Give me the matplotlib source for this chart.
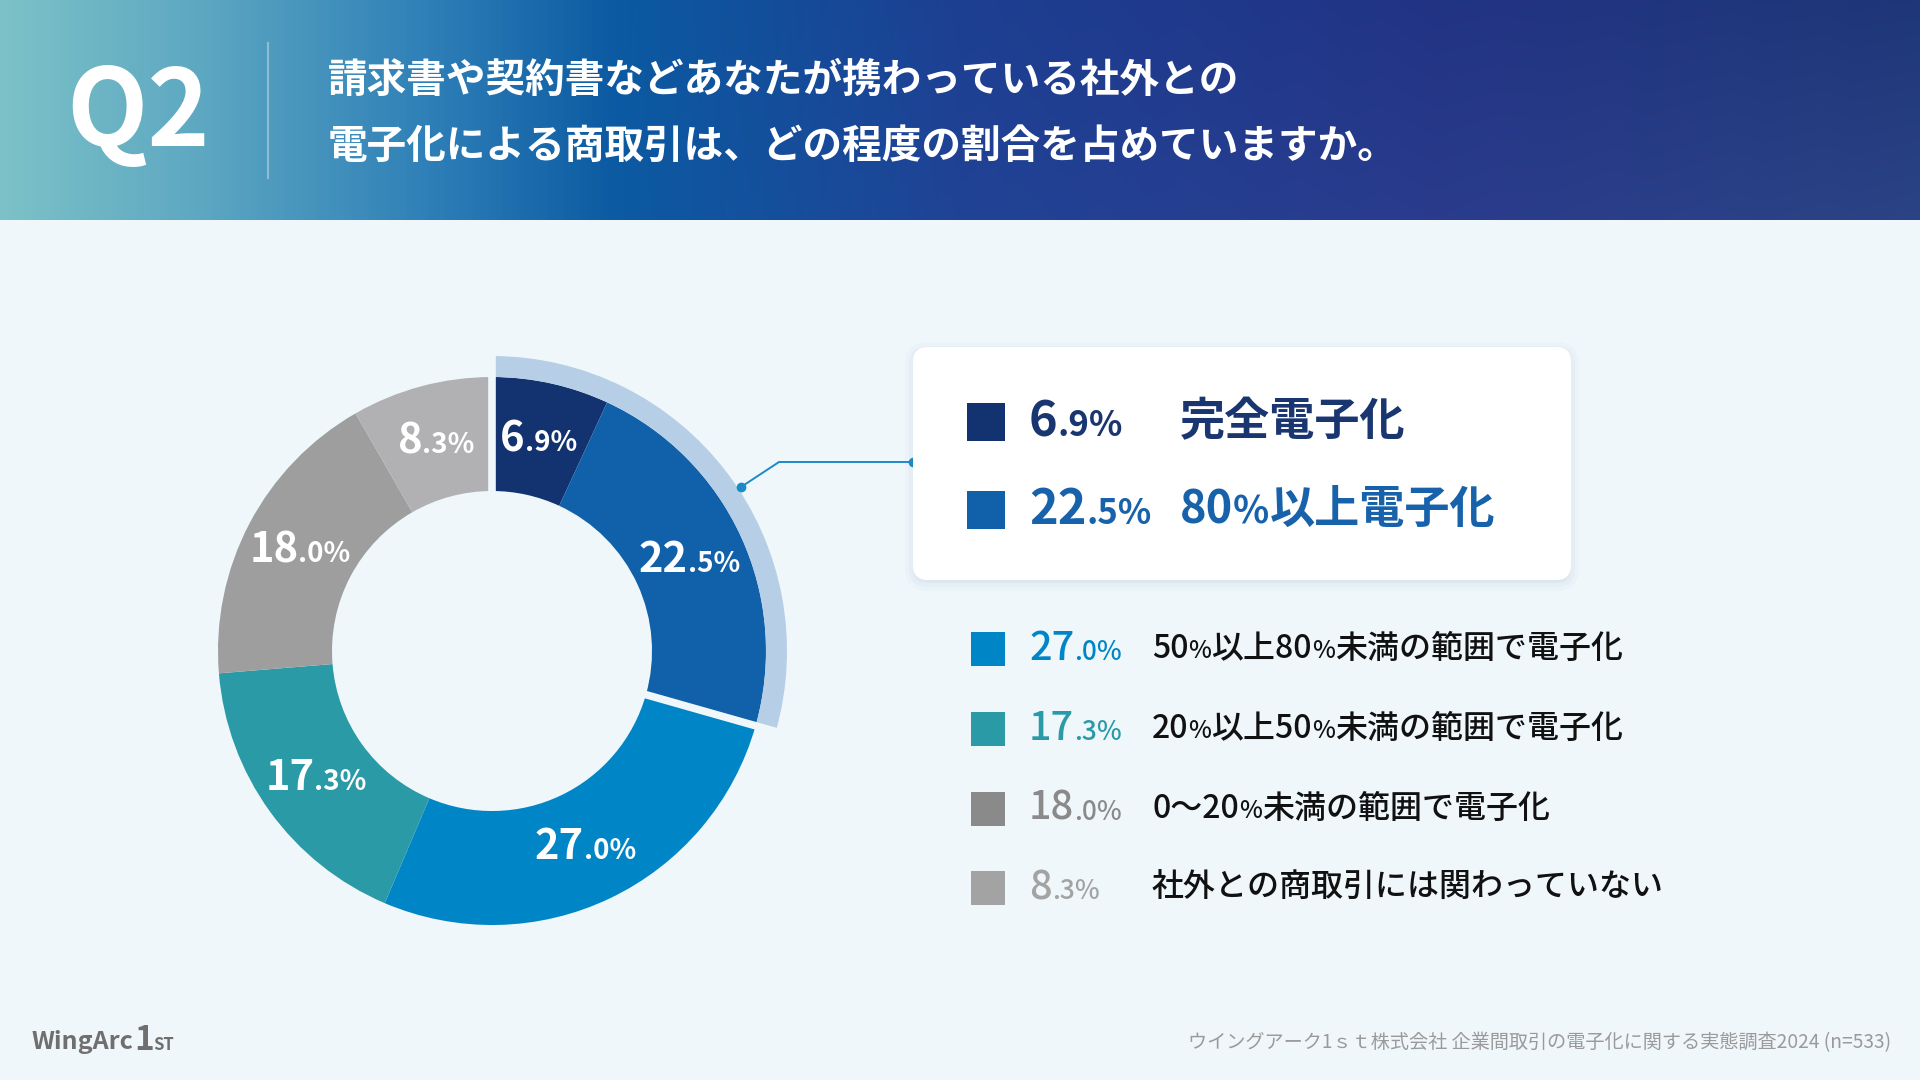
import numpy as np
import matplotlib.pyplot as plt
from matplotlib.patches import Rectangle, FancyBboxPatch, Wedge
from matplotlib.offsetbox import TextArea, HPacker, AnnotationBbox
from matplotlib.colors import LinearSegmentedColormap

plt.rcParams['font.family'] = ['Noto Sans CJK JP', 'DejaVu Sans']

W, H = 1920, 1080

# --- data ---
labels = ['完全電子化', '80%以上電子化', '50%以上80%未満の範囲で電子化',
          '20%以上50%未満の範囲で電子化', '0～20%未満の範囲で電子化',
          '社外との商取引には関わっていない']
values = [6.9, 22.5, 27.0, 17.3, 18.0, 8.3]
wedge_colors = ['#12336f', '#1160aa', '#0086c6', '#2a9aa6', '#9e9e9f', '#b1b1b3']
legend_colors = ['#12336f', '#1160aa', '#0086c6', '#2a9aa6', '#8a8a8a', '#a3a3a3']
title_lines = ['請求書や契約書などあなたが携わっている社外との',
               '電子化による商取引は、どの程度の割合を占めていますか。']
question = 'Q2'
source = 'ウイングアーク1ｓｔ株式会社 企業間取引の電子化に関する実態調査2024 (n=533)'

BG = '#eff7fb'


def Y(y):
    # top-down pixel -> axes coords
    return H - y


def rich(ax, parts, x, y, ha='left'):
    boxes = []
    for p in parts:
        t, s, c, w = p[:4]
        st = p[4] if len(p) > 4 else 'normal'
        boxes.append(TextArea(t, textprops=dict(fontsize=s, color=c, fontweight=w, fontstyle=st)))
    pack = HPacker(children=boxes, align='baseline', pad=0, sep=0)
    bx = {'left': 0, 'center': 0.5, 'right': 1}[ha]
    ab = AnnotationBbox(pack, (x, Y(y)), frameon=False, pad=0, box_alignment=(bx, 0.5), zorder=10)
    ax.add_artist(ab)


def num_parts(v, big, small, color, weight='bold'):
    i, d = f'{v:.1f}'.split('.')
    return [(i, big, color, weight), ('.' + d + '%', small, color, weight)]


def pct_parts(s, size, small, color, weight):
    segs = s.split('%')
    parts = []
    for k, seg in enumerate(segs):
        if seg:
            parts.append((seg, size, color, weight))
        if k < len(segs) - 1:
            parts.append(('%', small, color, weight))
    return parts


fig = plt.figure(figsize=(19.2, 10.8), dpi=100, facecolor=BG)
ax = fig.add_axes([0, 0, 1, 1])
ax.set_facecolor(BG)

# header gradient
cmap = LinearSegmentedColormap.from_list('hdr', [
    (0.0, '#7bc1c7'), (0.1, '#5ea8c2'), (0.22, '#2f80b8'), (0.32, '#0b5aa2'),
    (0.5, '#1d3f92'), (0.75, '#223384'), (1.0, '#1e3778')])
gx = np.linspace(0, 1, 600)
gy = np.linspace(0, 1, 60)
rgb = cmap(gx)[None, :, :3].repeat(len(gy), axis=0)
light = (gy[:, None] * np.clip(gx[None, :] - 0.3, 0, 1)) * 0.07
rgb = np.clip(rgb + light[..., None], 0, 1)
ax.imshow(rgb, extent=(0, W, Y(220), H), aspect='auto', zorder=0, interpolation='bilinear')

ax.text(66, Y(115), question, fontsize=76, color='white', fontweight='bold',
        va='center', ha='left')
ax.plot([268, 268], [Y(43), Y(178)], color='white', alpha=0.35, lw=1.5)
for i, line in enumerate(title_lines):
    ax.text(328, Y(80 + 66 * i), line, fontsize=28.5, color='white', fontweight='bold',
            va='center', ha='left')

# donut
cx, cy = 492, 651
R_out, R_in, R_hl = 274, 160, 295
total = sum(values)
ax.pie(values, colors=wedge_colors, startangle=90, counterclock=False,
       center=(cx, Y(cy)), radius=R_out, frame=True,
       wedgeprops=dict(width=R_out - R_in, linewidth=0))

top_frac = (values[0] + values[1]) / total
ax.add_patch(Wedge((cx, Y(cy)), R_hl, 90 - 360 * top_frac, 90, width=R_hl - R_out,
                   color='#b7cfe6', lw=0, zorder=3))

for a in [90, 90 - 360 * top_frac]:
    t = np.deg2rad(a)
    r = np.array([R_in - 5, R_hl + 5])
    ax.plot(cx + r * np.cos(t), Y(cy) + r * np.sin(t), color=BG, lw=5.5, zorder=4,
            solid_capstyle='butt')

cum = np.cumsum([0] + values[:-1])
R_mid = (R_out + R_in) / 2
for v, c0 in zip(values, cum):
    t = np.deg2rad(90 - 360 * (c0 + v / 2) / total)
    x = cx + R_mid * np.cos(t)
    y = cy - R_mid * np.sin(t)
    rich(ax, num_parts(v, 30, 20, 'white'), x, y, ha='center')

# connector
ax.plot([913, 779, 741], [Y(462), Y(462), Y(487)], color='#1a8bc9', lw=1.4, zorder=5)
ax.plot([913, 741], [Y(462), Y(487)], 'o', color='#1a8bc9', ms=6, zorder=6)

# highlight box with soft shadow
for k, al in enumerate([0.05, 0.04, 0.03]):
    ax.add_patch(FancyBboxPatch((913 - 4 * k, Y(580) - 4 * k - 3), 658 + 8 * k, 233 + 8 * k,
                                boxstyle='round,pad=0,rounding_size=%d' % (15 + 4 * k),
                                fc='#5b86a8', ec='none', alpha=al, zorder=6))
ax.add_patch(FancyBboxPatch((913, Y(580)), 658, 233, boxstyle='round,pad=0,rounding_size=15',
                            fc='white', ec='none', zorder=7))

box_rows = [(0, 422), (1, 510)]
box_text_colors = ['#1a3670', '#1762aa']
for i, yc in box_rows:
    ax.add_patch(Rectangle((967, Y(yc) - 19), 38, 38, fc=legend_colors[i], ec='none', zorder=8))
    rich(ax, num_parts(values[i], 35, 25, box_text_colors[i]), 1029, yc)
    rich(ax, pct_parts(labels[i], 32.5, 27, box_text_colors[i], 'bold'), 1180, yc)

rows_y = [649, 729, 809, 888]
for i, yc in zip(range(2, 6), rows_y):
    ax.add_patch(Rectangle((971, Y(yc) - 17), 34, 34, fc=legend_colors[i], ec='none', zorder=8))
    rich(ax, num_parts(values[i], 28.5, 19, legend_colors[i], 'medium'), 1029, yc)
    rich(ax, pct_parts(labels[i], 23, 17.5, '#111111', 'medium'), 1152, yc)

# footer
rich(ax, [('WingArc', 18, '#6f6f6f', 'bold'), ('1', 24, '#6f6f6f', 'bold', 'italic'),
          ('ST', 12, '#6f6f6f', 'bold', 'italic')], 32, 1040)
ax.text(1891, Y(1043), source, fontsize=13.8, color='#9a9a9a', ha='right', va='center')

ax.set_xlim(0, W)
ax.set_ylim(0, H)
ax.set_aspect('auto')
ax.axis('off')
fig.savefig('out.png', dpi=100, facecolor=BG)
